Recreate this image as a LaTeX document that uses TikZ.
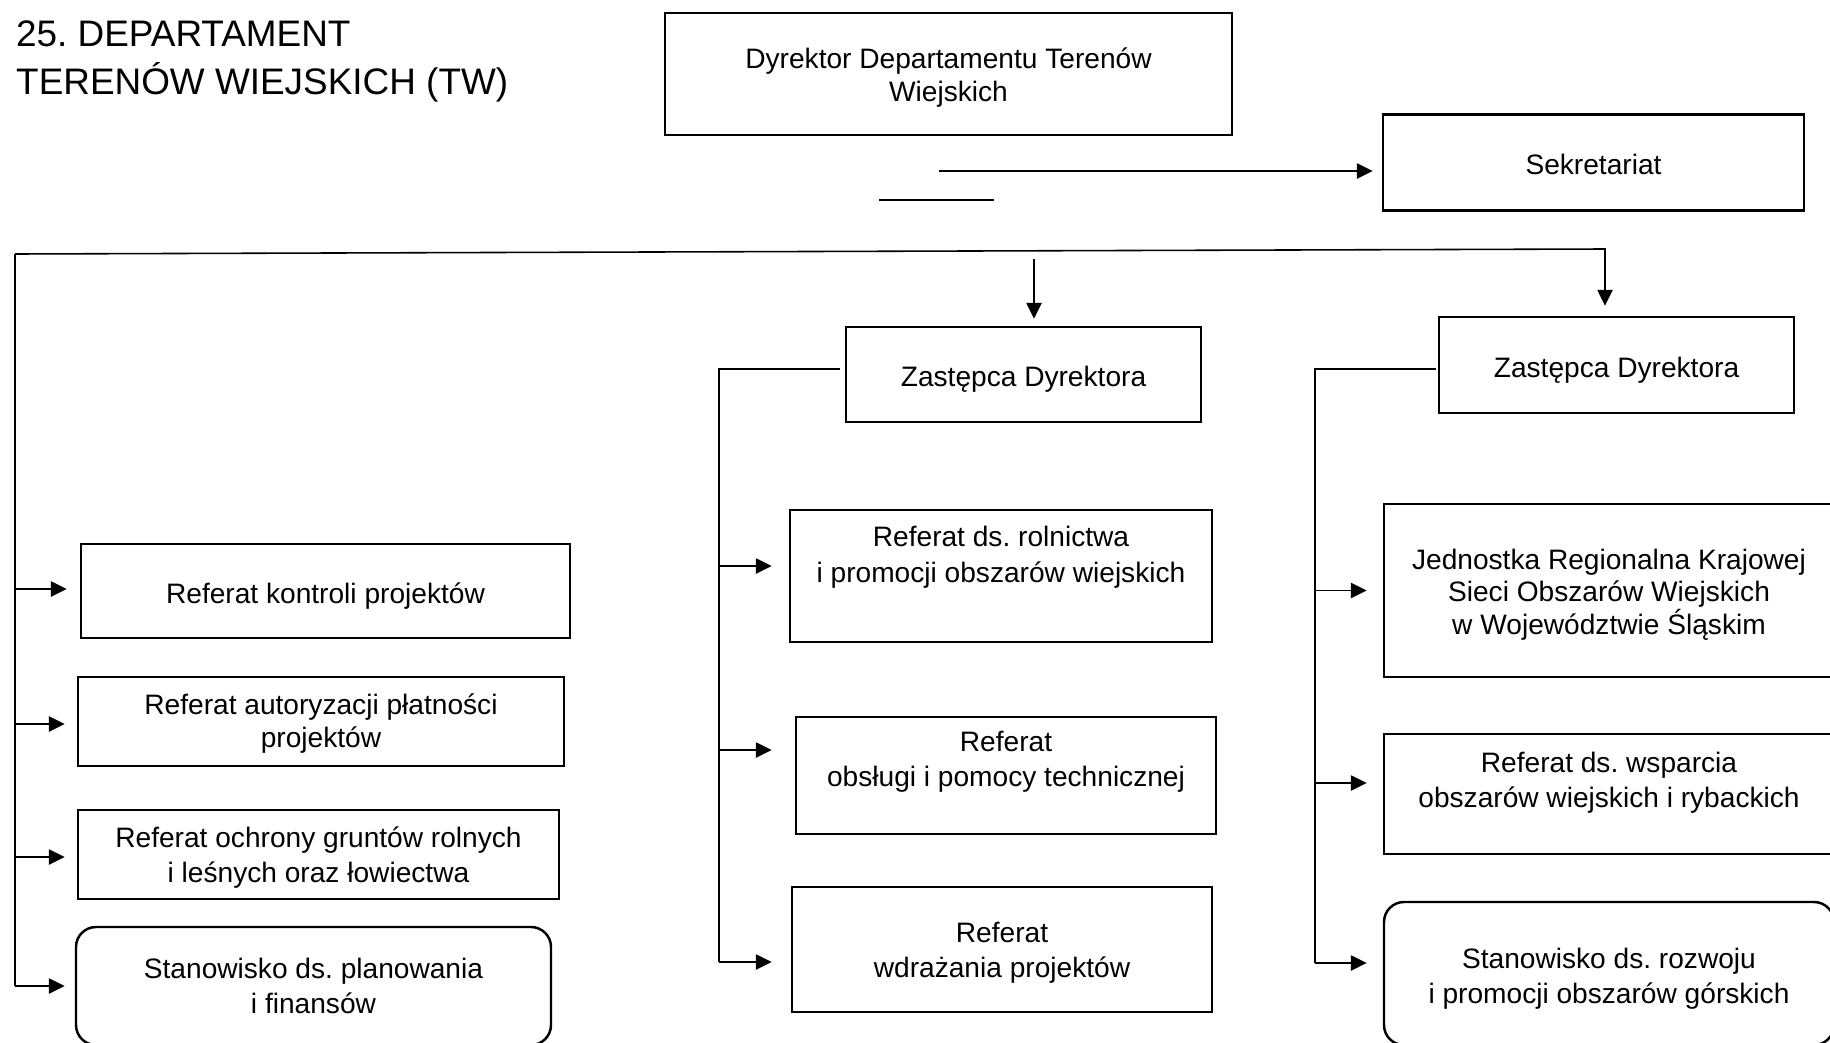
\documentclass[tikz,border=0pt]{standalone}
\usepackage{fontspec}
\setmainfont{Liberation Sans}
\usetikzlibrary{arrows.meta}
\frenchspacing

\tikzset{
    txt/.style={inner sep=0pt, align=center, font=\fontsize{8pt}{10pt}\selectfont,
        execute at begin node={\rule{0pt}{1.08em}}, execute at end node={\rule[-0.212em]{0pt}{0.212em}}},
    box/.style={txt, draw, line width=0.7pt},
    rbox/.style={box, rounded corners=2mm},
    tight/.style={font=\fontsize{8pt}{9.3pt}\selectfont},
    line/.style={line width=0.45pt},
    arr/.style={line, -{Triangle[length=4.5pt,width=4.3pt]}, shorten >=1.5mm}
}

\begin{document}
\begin{tikzpicture}
        \useasboundingbox (0,0) rectangle (18.30,-10.42);
        \clip (0,0) rectangle (18.30,-10.42);
        \node[anchor=north west, inner sep=0pt, align=left, font=\fontsize{10.5pt}{13.7pt}\selectfont] (title) at (0.155,-0.20) {25. DEPARTAMENT\\TERENÓW WIEJSKICH (TW)};
        \node[box, minimum width=5.67cm, minimum height=1.22cm] (dyr) at (9.485,-0.74) {};
        \node[txt, tight] (dyrt) at (9.485,-0.777) {Dyrektor Departamentu Terenów\\Wiejskich};
        \node[box, minimum width=4.21cm, minimum height=0.96cm] (sek) at (15.935,-1.625) {Sekretariat};
        \node[box, minimum width=3.55cm, minimum height=0.95cm] (z1) at (10.235,-3.745) {Zastępca Dyrektora};
        \node[box, minimum width=3.55cm, minimum height=0.96cm] (z2) at (16.165,-3.65) {Zastępca Dyrektora};

        \node[box, minimum width=4.89cm, minimum height=0.94cm] (kon) at (3.255,-5.91) {Referat kontroli projektów};
        \node[box, minimum width=4.86cm, minimum height=0.89cm] (aut) at (3.21,-7.215) {};
        \node[txt, tight] (autt) at (3.21,-7.236) {Referat autoryzacji płatności\\projektów};
        \node[box, minimum width=4.81cm, minimum height=0.89cm] (och) at (3.185,-8.545) {};
        \node[txt] (ocht) at (3.185,-8.572) {Referat ochrony gruntów rolnych\\i leśnych oraz łowiectwa};
        \node[rbox, minimum width=4.75cm, minimum height=1.18cm] (plan) at (3.135,-9.86) {};
        \node[txt] (plant) at (3.135,-9.891) {Stanowisko ds. planowania\\i finansów};

        \node[box, minimum width=4.22cm, minimum height=1.32cm] (rol) at (10.01,-5.76) {};
        \node[txt] (rolt) at (10.01,-5.573) {Referat ds. rolnictwa\\i promocji obszarów wiejskich};
        \node[box, minimum width=4.20cm, minimum height=1.17cm] (obs) at (10.06,-7.755) {};
        \node[txt] (obst) at (10.06,-7.621) {Referat\\obsługi i pomocy technicznej};
        \node[box, minimum width=4.20cm, minimum height=1.25cm] (wdr) at (10.02,-9.495) {};
        \node[txt] (wdrt) at (10.02,-9.529) {Referat\\wdrażania projektów};

        \node[box, minimum width=4.50cm, minimum height=1.73cm] (jed) at (16.09,-5.905) {};
        \node[txt, tight] (jedt) at (16.09,-5.947) {Jednostka Regionalna Krajowej\\Sieci Obszarów Wiejskich\\w Województwie Śląskim};
        \node[box, minimum width=4.50cm, minimum height=1.20cm] (wsp) at (16.09,-7.94) {};
        \node[txt] (wspt) at (16.09,-7.826) {Referat ds. wsparcia\\obszarów wiejskich i rybackich};
        \node[rbox, minimum width=4.50cm, minimum height=1.43cm] (roz) at (16.09,-9.735) {};
        \node[txt] (rozt) at (16.09,-9.786) {Stanowisko ds. rozwoju\\i promocji obszarów górskich};

        \coordinate (sekst) at (9.39,-1.71);
        \coordinate (dash1) at (8.79,-2.00);
        \coordinate (dash2) at (9.94,-2.00);
        \coordinate (ltop) at (0.15,-2.54);
        \coordinate (rtop) at (16.05,-2.49);
        \coordinate (mtop) at (10.34,-2.59);
        \coordinate (mbus) at (7.19,-3.69);
        \coordinate (rbus) at (13.15,-3.69);

        \draw[arr, shorten >=0.9mm] (sekst) -- (sekst -| sek.west);
        \draw[line] (dash1) -- (dash2);
        \draw[arr, shorten >=1mm] (ltop) -- (rtop) -- (rtop |- z2.north);
        \draw[arr, shorten >=0.7mm] (mtop) -- (mtop |- z1.north);

        \draw[line] (ltop) -- (ltop |- plan.west);
        \draw[arr, shorten >=1.3mm] ([yshift=.2mm]kon.west -| ltop) -- ([yshift=.2mm]kon.west);
        \draw[arr, shorten >=1.2mm] ([yshift=-.25mm]aut.west -| ltop) -- ([yshift=-.25mm]aut.west);
        \draw[arr, shorten >=1.2mm] ([yshift=-.25mm]och.west -| ltop) -- ([yshift=-.25mm]och.west);
        \draw[arr, shorten >=1mm] (plan.west -| ltop) -- (plan.west);

        \draw[line, shorten <=.5mm] ([yshift=.55mm]z1.west) -- (mbus) -- ([yshift=-1.25mm]wdr.west -| mbus);
        \draw[arr, shorten >=1.7mm] ([yshift=1mm]rol.west -| mbus) -- ([yshift=1mm]rol.west);
        \draw[arr, shorten >=2.3mm] ([yshift=2.55mm]obs.west -| mbus) -- ([yshift=2.55mm]obs.west);
        \draw[arr, shorten >=1.9mm] ([yshift=-1.25mm]wdr.west -| mbus) -- ([yshift=-1.25mm]wdr.west);

        \draw[line, shorten <=.2mm] ([yshift=-.4mm]z2.west) -- (rbus) -- ([yshift=1.05mm]roz.west -| rbus);
        \draw[arr, shorten >=1.6mm] (jed.west -| rbus) -- (jed.west);
        \draw[arr, shorten >=1.6mm] ([yshift=1.1mm]wsp.west -| rbus) -- ([yshift=1.1mm]wsp.west);
        \draw[arr, shorten >=1.6mm] ([yshift=1.05mm]roz.west -| rbus) -- ([yshift=1.05mm]roz.west);
\end{tikzpicture}
\end{document}
